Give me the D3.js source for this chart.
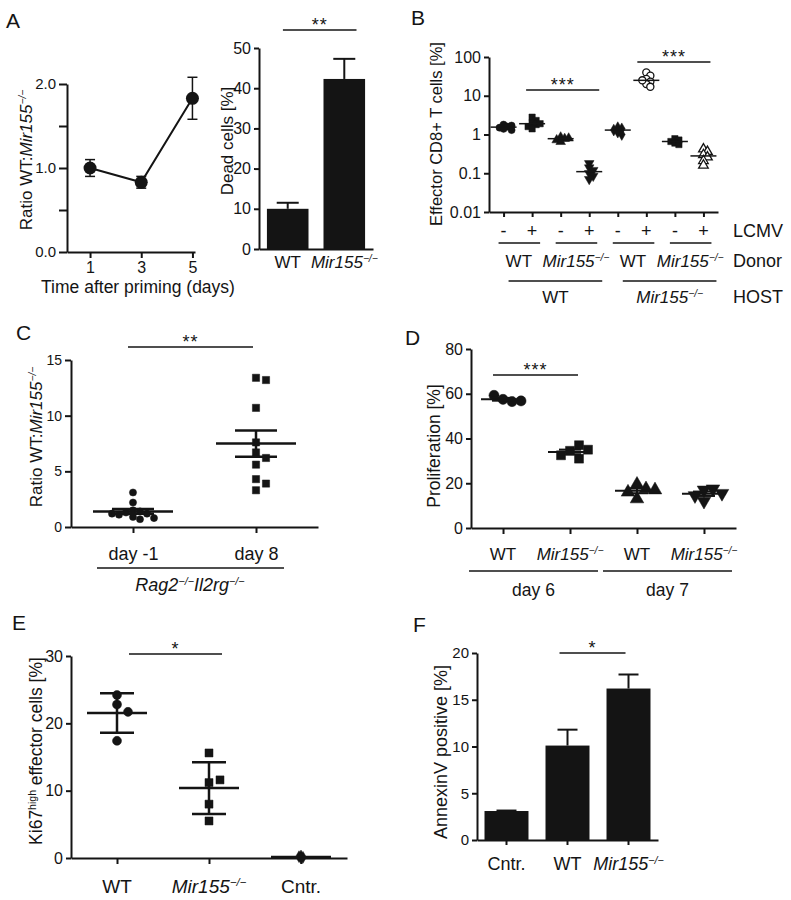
<!DOCTYPE html>
<html>
<head>
<meta charset="utf-8">
<script src="https://cdn.jsdelivr.net/npm/d3@7"></script>
<style>
body { margin: 0; background: #fff; }
svg { display: block; font-family: "Liberation Sans", Arial, Helvetica, sans-serif; }
</style>
</head>
<body>
<svg id="fig" width="791" height="900"></svg>
<script>
// ---- data ----
var aDays = [1, 3, 5];
var aRatio = [1.0, 0.83, 1.83];
var aRatioSem = [0.1, 0.07, 0.25];

var deadGroups = ["WT", "Mir155"];
var deadMean = [10.0, 42.3];
var deadSem = [1.5, 5.0];

var bLcmv = ["-", "+", "-", "+", "-", "+", "-", "+"];
var bDonor = ["WT", "Mir155", "WT", "Mir155"];
var bHost = ["WT", "Mir155"];
var bValues = [
  [1.8, 1.6, 1.5, 1.4, 1.7, 1.3],
  [2.8, 2.3, 2.0, 1.8, 1.6, 1.4, 1.9],
  [0.85, 0.78, 0.72, 0.65, 0.8],
  [0.18, 0.14, 0.12, 0.1, 0.085, 0.07],
  [1.5, 1.4, 1.3, 1.15, 1.0],
  [40, 33, 27, 23, 20, 17, 25],
  [0.78, 0.72, 0.66, 0.6, 0.55],
  [0.42, 0.36, 0.3, 0.26, 0.21, 0.16]
];

var cGroups = ["day -1", "day 8"];
var cDayM1 = [3.1, 2.2, 1.5, 1.4, 1.3, 1.2, 1.1, 0.9, 0.7, 0.8, 1.2];
var cDay8 = [13.4, 13.2, 10.7, 7.6, 6.7, 6.2, 5.6, 4.3, 3.9, 3.3];

var dGroups = ["WT", "Mir155", "WT", "Mir155"];
var dDays = ["day 6", "day 7"];
var dValues = [
  [57.5, 56.5, 59.3, 56.8],
  [34.5, 31, 37, 32.5, 35],
  [19.5, 13, 17.5, 16, 17],
  [17, 12, 17.5, 14.5, 15.5]
];

var eGroups = ["WT", "Mir155", "Cntr."];
var eValues = [
  [24.2, 22.8, 21.7, 17.4],
  [15.6, 11.2, 11.6, 8.0, 5.5],
  [0.3, 0.1, 0.2, 0.0]
];

var fGroups = ["Cntr.", "WT", "Mir155"];
var fMean = [3.1, 10.1, 16.2];
var fSem = [0.05, 1.7, 1.5];

// ---- helpers ----
var INK = "#141414";
var FONT = "'Liberation Sans', Arial, Helvetica, sans-serif";
var svg = d3.select("#fig");
svg.append("rect").attr("width", 791).attr("height", 900).attr("fill", "#fff");

var KO = [{s: "Mir155", i: 1}, {s: "\u2212/\u2212", i: 1, sup: 1}];
function parts(k) { return k === "Mir155" ? KO : (typeof k === "string" ? [{s: k}] : k); }

function rich(t, ps, fs) {
  var up = false;
  ps.forEach(function(p) {
    var ts = t.append("tspan").text(p.s);
    if (p.i) ts.attr("font-style", "italic");
    if (p.sup) {
      ts.attr("font-size", fs * 0.6);
      if (!up) { ts.attr("dy", -fs * 0.36); up = true; }
    } else if (up) { ts.attr("dy", fs * 0.36); up = false; }
  });
  return t;
}

function label(x, y, k, fs, anchor, rot) {
  var t = svg.append("text").attr("font-size", fs).attr("fill", INK)
    .attr("text-anchor", anchor || "middle");
  if (rot) t.attr("transform", "translate(" + x + "," + y + ") rotate(-90)");
  else t.attr("x", x).attr("y", y);
  return rich(t, parts(k), fs);
}

function dress(g, fs) {
  g.attr("font-family", FONT).attr("font-size", fs);
  g.select(".domain").attr("stroke", INK).attr("stroke-width", 2);
  g.selectAll(".tick line").attr("stroke", INK).attr("stroke-width", 2);
  g.selectAll(".tick text").attr("fill", INK);
  return g;
}

function axisL(scale, x0, vals, fmt, fs, ts) {
  var g = svg.append("g").attr("transform", "translate(" + x0 + ",0)")
    .call(d3.axisLeft(scale).tickValues(vals).tickFormat(fmt).tickSize(ts).tickSizeOuter(0).tickPadding(3));
  return dress(g, fs);
}

function axisB(scale, y0, fmt, fs, ts, pad, vals) {
  var ax = d3.axisBottom(scale).tickSize(ts).tickSizeOuter(0).tickPadding(pad).tickFormat(fmt);
  if (vals) ax.tickValues(vals);
  var g = svg.append("g").attr("transform", "translate(0," + y0 + ")").call(ax);
  return dress(g, fs);
}

function hline(x1, x2, y, w) {
  svg.append("line").attr("x1", x1).attr("x2", x2).attr("y1", y).attr("y2", y)
    .attr("stroke", INK).attr("stroke-width", w || 1.5);
}

function sig(x1, x2, y, stars) {
  hline(x1, x2, y, 1.5);
  svg.append("text").attr("x", (x1 + x2) / 2).attr("y", y + 1)
    .attr("text-anchor", "middle").attr("font-size", 18).attr("letter-spacing", 1)
    .attr("fill", INK).text(stars);
}

function letter(x, y, s) {
  svg.append("text").attr("x", x).attr("y", y).attr("font-size", 21).attr("fill", INK).text(s);
}

// simple beeswarm: place each value at the centre or the nearest free side slot
function swarm(vals, cx, y, r, step) {
  var placed = [];
  var ks = [0, 1, -1, 2, -2, 3, -3, 4, -4, 5, -5, 6, -6];
  return vals.map(function(v) {
    var py = y(v);
    for (var j = 0; j < ks.length; j++) {
      var px = cx + ks[j] * step;
      var hit = placed.some(function(p) {
        return Math.abs(p[0] - px) < 2 * r * 0.9 && Math.abs(p[1] - py) < 2 * r * 0.9;
      });
      if (!hit) { placed.push([px, py]); return [px, py]; }
    }
    placed.push([cx, py]);
    return [cx, py];
  });
}

function dots(vals, cx, y, shape, size, r, step) {
  var pts = swarm(vals, cx, y, r, step);
  svg.append("g").selectAll("path").data(pts).join("path")
    .attr("transform", function(p) {
      return "translate(" + p[0] + "," + p[1] + ")" + (shape.down ? " rotate(180)" : "");
    })
    .attr("d", d3.symbol().type(shape.type).size(size))
    .attr("fill", shape.open ? "#fff" : INK)
    .attr("stroke", INK).attr("stroke-width", shape.open ? 1.3 : 0.5);
}

function meanErr(cx, y, m, lo, hi, wm, we, sw) {
  hline(cx - wm, cx + wm, y(m), sw);
  svg.append("line").attr("x1", cx).attr("x2", cx).attr("y1", y(lo)).attr("y2", y(hi))
    .attr("stroke", INK).attr("stroke-width", sw);
  hline(cx - we, cx + we, y(lo), sw);
  hline(cx - we, cx + we, y(hi), sw);
}

function sem(v) { return d3.deviation(v) / Math.sqrt(v.length); }

var CIRCLE = {type: d3.symbolCircle}, SQUARE = {type: d3.symbolSquare},
    TRI = {type: d3.symbolTriangle}, TRID = {type: d3.symbolTriangle, down: 1},
    DIAM = {type: d3.symbolDiamond}, OCIRC = {type: d3.symbolCircle, open: 1},
    OTRI = {type: d3.symbolTriangle, open: 1};

// ---- A (left): ratio over time ----
letter(6, 28, "A");
var xA = d3.scaleLinear().domain([0.1, 5.1]).range([67, 195]);
var yA = d3.scaleLinear().domain([0, 2]).range([252, 84]);
axisL(yA, 67, [0, 0.5, 1, 1.5, 2], function(d) { return d % 1 ? "" : d3.format(".1f")(d); }, 15, 8);
axisB(xA, 252, d3.format("d"), 16, 6, 4, aDays);
label(32, 160, [{s: "Ratio WT:"}, {s: "Mir155", i: 1}, {s: "\u2212/\u2212", i: 1, sup: 1}], 17, "middle", true);
label(138, 293, "Time after priming (days)", 17.5);
svg.append("path").datum(aDays)
  .attr("d", d3.line().x(function(d) { return xA(d); }).y(function(d, i) { return yA(aRatio[i]); }))
  .attr("fill", "none").attr("stroke", INK).attr("stroke-width", 2);
aDays.forEach(function(d, i) {
  var cx = xA(d);
  svg.append("line").attr("x1", cx).attr("x2", cx)
    .attr("y1", yA(aRatio[i] - aRatioSem[i])).attr("y2", yA(aRatio[i] + aRatioSem[i]))
    .attr("stroke", INK).attr("stroke-width", 1.5);
  hline(cx - 5, cx + 5, yA(aRatio[i] - aRatioSem[i]), 1.5);
  hline(cx - 5, cx + 5, yA(aRatio[i] + aRatioSem[i]), 1.5);
  svg.append("circle").attr("cx", cx).attr("cy", yA(aRatio[i])).attr("r", 6.5).attr("fill", INK);
});

// ---- A (right): dead cells ----
var xA2 = d3.scaleBand().domain(deadGroups).range([259, 373]).paddingInner(0.265).paddingOuter(0.14);
var yA2 = d3.scaleLinear().domain([0, 50]).range([249, 48]);
deadGroups.forEach(function(g, i) {
  var cx = xA2(g) + xA2.bandwidth() / 2;
  svg.append("line").attr("x1", cx).attr("x2", cx)
    .attr("y1", yA2(deadMean[i])).attr("y2", yA2(deadMean[i] + deadSem[i]))
    .attr("stroke", INK).attr("stroke-width", 2);
  hline(cx - 11, cx + 11, yA2(deadMean[i] + deadSem[i]), 2);
});
svg.append("g").selectAll("rect").data(deadGroups).join("rect")
  .attr("x", function(d) { return xA2(d); }).attr("width", xA2.bandwidth())
  .attr("y", function(d, i) { return yA2(deadMean[i]); })
  .attr("height", function(d, i) { return yA2(0) - yA2(deadMean[i]); })
  .attr("fill", INK);
axisL(yA2, 259, [0, 10, 20, 30, 40, 50], d3.format("d"), 16, 5);
axisB(xA2, 249, "", 16, 0, 0);
deadGroups.forEach(function(g) { label(xA2(g) + xA2.bandwidth() / 2, 268, g, 17); });
label(233, 141, "Dead cells [%]", 17, "middle", true);
sig(xA2("WT") + 16, xA2("Mir155") + 33, 30, "**");

// ---- B: effector CD8+ T cells ----
letter(411, 25, "B");
var xB = d3.scalePoint().domain(d3.range(8)).range([489, 718]).padding(0.51);
var yB = d3.scaleLog().domain([0.01, 100]).range([212, 57]);
var bShapes = [CIRCLE, SQUARE, TRI, TRID, DIAM, OCIRC, SQUARE, OTRI];
bValues.forEach(function(v, i) {
  dots(v, xB(i), yB, bShapes[i], 40, 2.2, 4);
  hline(xB(i) - 13, xB(i) + 13, yB(d3.median(v)), 1.5);
});
axisL(yB, 489, [0.01, 0.1, 1, 10, 100], d3.format("~g"), 16, 5);
axisB(xB, 212, "", 16, 5, 0);
label(442, 134, "Effector CD8+ T cells [%]", 16.5, "middle", true);
bLcmv.forEach(function(s, i) { label(xB(i), 237, s, 18); });
label(733, 237, "LCMV", 18, "start");
bDonor.forEach(function(k, j) {
  var a = xB(2 * j), b = xB(2 * j + 1);
  hline(a - 5, b + 8, 243, 1.5);
  label((a + b) / 2 + 1, 267, k, 17);
});
label(733, 267, "Donor", 18, "start");
bHost.forEach(function(k, j) {
  var a = xB(4 * j) + 5, b = xB(4 * j + 3) + 13;
  hline(a, b, 281, 1.5);
  label((a + b) / 2, 303, k, 17);
});
label(733, 303, "HOST", 18, "start");
sig(xB(1) - 6, xB(3) + 10, 90, "***");
sig(xB(5) - 9, xB(7) + 7, 62, "***");

// ---- C: ratio in Rag2/Il2rg hosts ----
letter(16, 340, "C");
var xC = d3.scalePoint().domain(cGroups).range([71, 318]).padding(0.504);
var yC = d3.scaleLinear().domain([0, 15]).range([527, 360]);
[cDayM1, cDay8].forEach(function(v, i) {
  var cx = xC(cGroups[i]);
  dots(v, cx, yC, i ? SQUARE : CIRCLE, i ? 52 : 40, i ? 4 : 3.6, i ? 10 : 7);
  var m = d3.mean(v), e = sem(v);
  meanErr(cx, yC, m, m - e, m + e, 40, 21, 2.5);
});
axisL(yC, 71, [0, 5, 10, 15], d3.format("d"), 14, 6);
axisB(xC, 527, null, 18, 6, 14);
label(42, 437, [{s: "Ratio WT:"}, {s: "Mir155", i: 1}, {s: "\u2212/\u2212", i: 1, sup: 1}], 17, "middle", true);
hline(xC(cGroups[0]) - 36, xC(cGroups[1]) + 28, 568, 1.5);
label(190, 591, [{s: "Rag2", i: 1}, {s: "\u2212/\u2212", i: 1, sup: 1}, {s: "Il2rg", i: 1}, {s: "\u2212/\u2212", i: 1, sup: 1}], 18);
sig(xC(cGroups[0]) - 5, xC(cGroups[1]) - 3, 347, "**");

// ---- D: proliferation ----
letter(405, 345, "D");
var xD = d3.scalePoint().domain(d3.range(4)).range([471, 736]).padding(0.478);
var yD = d3.scaleLinear().domain([0, 80]).range([528, 349]);
var dShapes = [CIRCLE, SQUARE, TRI, TRID];
dValues.forEach(function(v, i) {
  dots(v, xD(i), yD, dShapes[i], 80, 5, 9);
  var m = d3.mean(v), e = sem(v);
  meanErr(xD(i), yD, m, m - e, m + e, 22, 11, 2);
});
axisL(yD, 471, [0, 20, 40, 60, 80], d3.format("d"), 16, 5);
axisB(xD, 528, "", 16, 6, 0);
dGroups.forEach(function(k, i) { label(xD(i), 560, k, 17); });
dDays.forEach(function(s, j) {
  var a = xD(2 * j) - 34, b = xD(2 * j + 1) + 28;
  hline(a, b, 571, 1.5);
  label((a + b) / 2, 596, s, 17.5);
});
label(440, 446, "Proliferation [%]", 17.5, "middle", true);
sig(xD(0) - 10, xD(1) + 8, 375, "***");

// ---- E: Ki67 high effector cells ----
letter(12, 630, "E");
var xE = d3.scalePoint().domain(eGroups).range([71, 347]).padding(0.5);
var yE = d3.scaleLinear().domain([0, 30]).range([858, 656]);
var eShapes = [CIRCLE, SQUARE, DIAM];
eValues.forEach(function(v, i) {
  var cx = xE(eGroups[i]);
  if (i < 2) dots(v, cx, yE, eShapes[i], 64, 4.5, 11);
  else dots(v, cx, yE, eShapes[i], 40, 0.8, 2);
  var m = d3.mean(v), e = d3.deviation(v);
  if (i < 2) meanErr(cx, yE, m, m - e, m + e, 30, 17, 2.5);
  else hline(cx - 30, cx + 30, yE(m), 2.5);
});
axisL(yE, 71, [0, 10, 20, 30], d3.format("d"), 16, 5);
axisB(xE, 858, "", 16, 6, 0);
eGroups.forEach(function(k) { label(xE(k), 893, k, 19); });
label(42, 751, [{s: "Ki67"}, {s: "high", sup: 1}, {s: " effector cells [%]"}], 17.5, "middle", true);
sig(xE("WT") + 12, xE("Mir155") + 13, 654, "*");

// ---- F: AnnexinV positive ----
letter(413, 632, "F");
var xF = d3.scaleBand().domain(fGroups).range([477, 658]).paddingInner(0.279).paddingOuter(0.123);
var yF = d3.scaleLinear().domain([0, 20]).range([840, 653]);
fGroups.forEach(function(g, i) {
  var cx = xF(g) + xF.bandwidth() / 2;
  svg.append("line").attr("x1", cx).attr("x2", cx)
    .attr("y1", yF(fMean[i])).attr("y2", yF(fMean[i] + fSem[i]))
    .attr("stroke", INK).attr("stroke-width", 2);
  hline(cx - 10, cx + 10, yF(fMean[i] + fSem[i]), 2);
});
svg.append("g").selectAll("rect").data(fGroups).join("rect")
  .attr("x", function(d) { return xF(d); }).attr("width", xF.bandwidth())
  .attr("y", function(d, i) { return yF(fMean[i]); })
  .attr("height", function(d, i) { return yF(0) - yF(fMean[i]); })
  .attr("fill", INK);
axisL(yF, 477, [0, 5, 10, 15, 20], d3.format("d"), 15, 5);
axisB(xF, 840, "", 16, 5, 0);
fGroups.forEach(function(k) { label(xF(k) + xF.bandwidth() / 2, 870, k, 18); });
label(447, 752, "AnnexinV positive [%]", 18, "middle", true);
sig(xF("WT") + 14, xF("Mir155") + 19, 653, "*");
</script>
</body>
</html>
